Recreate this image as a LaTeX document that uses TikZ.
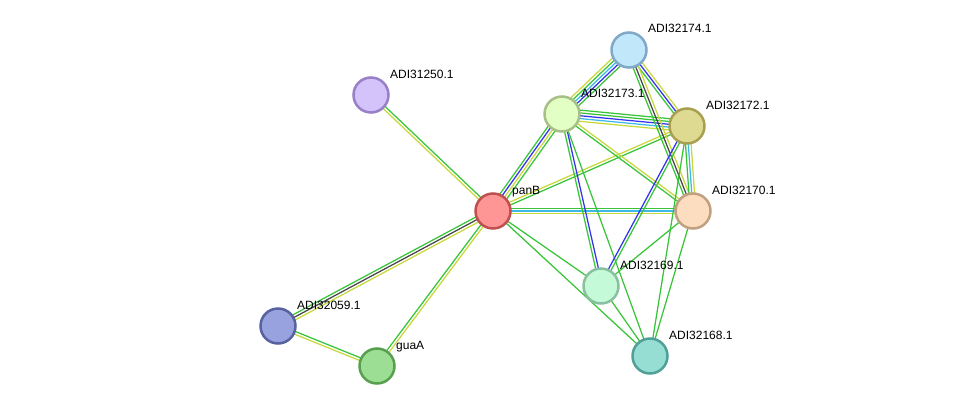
\documentclass[tikz,border=0pt]{standalone}
\usepackage{fontspec}
\setmainfont{Liberation Sans}
\usetikzlibrary{calc,backgrounds}
\definecolor{strgreen}{RGB}{56,196,56}
\definecolor{stryellow}{RGB}{200,216,60}
\definecolor{strblue}{RGB}{50,50,240}
\definecolor{strcyan}{RGB}{60,185,230}
\definecolor{strblack}{RGB}{70,70,70}
% one line per evidence channel, side by side
\newcommand{\strlink}[4]{%
  \foreach \c [count=\i] in {#4} {
    \pgfmathsetmacro\off{(\i-(#3+1)/2)*2.8}
    \draw[color=\c, line width=1.25pt] ($(#1.center)!\off pt!90:(#2.center)$) -- ($(#2.center)!\off pt!-90:(#1.center)$);
  }}

\begin{document}
\begin{tikzpicture}[x=1pt, y=-1pt,
    prot/.style={circle, minimum size=35pt, inner sep=0pt, line width=2.5pt},
    lbl/.style={anchor=base west, inner sep=0pt, font=\fontsize{12}{14}\selectfont}]
  \useasboundingbox (0,0) rectangle (976,412);
  % proteins
  \node[prot, fill={rgb,255:red,255;green,150;blue,150}, draw={rgb,255:red,192;green,80;blue,80}] (panB) at (493,211) {};
  \node[prot, fill={rgb,255:red,212;green,194;blue,250}, draw={rgb,255:red,152;green,128;blue,200}] (a31250) at (371,95) {};
  \node[prot, fill={rgb,255:red,192;green,232;blue,250}, draw={rgb,255:red,128;green,168;blue,200}] (a32174) at (629,50) {};
  \node[prot, fill={rgb,255:red,226;green,255;blue,196}, draw={rgb,255:red,168;green,192;blue,136}] (a32173) at (562,114) {};
  \node[prot, fill={rgb,255:red,222;green,218;blue,146}, draw={rgb,255:red,168;green,160;blue,80}] (a32172) at (687,126) {};
  \node[prot, fill={rgb,255:red,253;green,221;blue,192}, draw={rgb,255:red,192;green,160;blue,128}] (a32170) at (693,211) {};
  \node[prot, fill={rgb,255:red,196;green,250;blue,216}, draw={rgb,255:red,136;green,192;blue,160}] (a32169) at (601,286) {};
  \node[prot, fill={rgb,255:red,150;green,222;blue,212}, draw={rgb,255:red,80;green,160;blue,152}] (a32168) at (650,356) {};
  \node[prot, fill={rgb,255:red,152;green,162;blue,222}, draw={rgb,255:red,88;green,98;blue,160}] (a32059) at (278,326) {};
  \node[prot, fill={rgb,255:red,156;green,222;blue,148}, draw={rgb,255:red,88;green,160;blue,80}] (guaA) at (377,366) {};
  % labels
  \node[lbl] (lpanB) at ([shift={(19,-17)}]panB.center) {panB};
  \node[lbl] (l31250) at ([shift={(19,-17)}]a31250.center) {ADI31250.1};
  \node[lbl] (l32174) at ([shift={(19,-17)}]a32174.center) {ADI32174.1};
  \node[lbl] (l32173) at ([shift={(19,-17)}]a32173.center) {ADI32173.1};
  \node[lbl] (l32172) at ([shift={(19,-17)}]a32172.center) {ADI32172.1};
  \node[lbl] (l32170) at ([shift={(19,-17)}]a32170.center) {ADI32170.1};
  \node[lbl] (l32169) at ([shift={(19,-17)}]a32169.center) {ADI32169.1};
  \node[lbl] (l32168) at ([shift={(19,-17)}]a32168.center) {ADI32168.1};
  \node[lbl] (l32059) at ([shift={(19,-17)}]a32059.center) {ADI32059.1};
  \node[lbl] (lguaA) at ([shift={(19,-17)}]guaA.center) {guaA};
  % interactions
  \begin{scope}[on background layer]
    \strlink{panB}{a31250}{2}{strgreen,stryellow}
    \strlink{panB}{a32059}{3}{strgreen,strblack,stryellow}
    \strlink{panB}{guaA}{2}{strgreen,stryellow}
    \strlink{a32059}{guaA}{2}{stryellow,strgreen}
    \strlink{panB}{a32173}{4}{strgreen,stryellow,strblue,strgreen}
    \strlink{panB}{a32172}{2}{strgreen,stryellow}
    \strlink{panB}{a32170}{3}{stryellow,strcyan,strgreen}
    \strlink{panB}{a32169}{1}{strgreen}
    \strlink{panB}{a32168}{1}{strgreen}
    \strlink{a32173}{a32174}{5}{strgreen,strblue,strcyan,strgreen,stryellow}
    \strlink{a32173}{a32172}{5}{stryellow,strcyan,strblue,strgreen,strgreen}
    \strlink{a32173}{a32170}{2}{strgreen,stryellow}
    \strlink{a32173}{a32169}{2}{strgreen,strblue}
    \strlink{a32173}{a32168}{1}{strgreen}
    \strlink{a32174}{a32172}{3}{strgreen,strblue,stryellow}
    \strlink{a32174}{a32170}{3}{strgreen,strblack,stryellow}
    \strlink{a32172}{a32170}{3}{strgreen,strcyan,stryellow}
    \strlink{a32172}{a32169}{2}{strblue,strgreen}
    \strlink{a32172}{a32168}{1}{strgreen}
    \strlink{a32170}{a32169}{1}{strgreen}
    \strlink{a32170}{a32168}{1}{strgreen}
    \strlink{a32169}{a32168}{1}{strgreen}
  \end{scope}
\end{tikzpicture}
\end{document}
